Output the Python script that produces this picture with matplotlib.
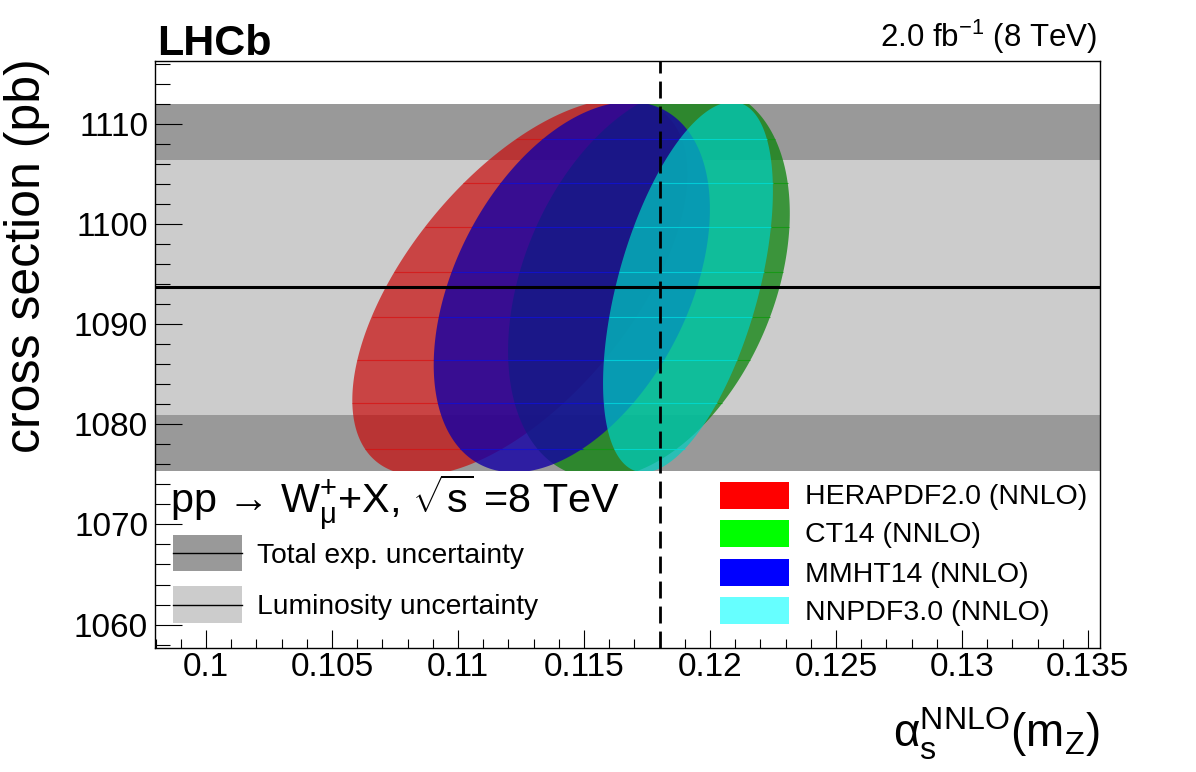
import numpy as np
import matplotlib
matplotlib.use('Agg')
import matplotlib.pyplot as plt
from matplotlib.patches import Polygon, Rectangle
from matplotlib.ticker import MultipleLocator

# ---------------- data ----------------
pdf_names = ['HERAPDF2.0 (NNLO)', 'CT14 (NNLO)', 'MMHT14 (NNLO)', 'NNPDF3.0 (NNLO)']
ell_alpha = [0.11246, 0.11758, 0.11452, 0.11913]      # centre alpha_s
ell_xsec = [1093.7, 1094.2, 1093.7, 1093.7]           # centre cross section (pb)
ell_alpha_err = [0.00665, 0.00559, 0.00548, 0.00337]  # half width in alpha_s
ell_xsec_err = [18.8, 19.6, 18.5, 18.5]               # half height in pb
ell_rho = [0.60, 0.35, 0.42, 0.52]                    # correlation

meas_xsec = 1093.67
tot_unc = 18.31
lumi_unc = 12.72
alpha_ref = 0.118
mesh_levels = [1077.58, 1082.08, 1086.39, 1090.73, 1095.22, 1099.72, 1104.05, 1108.45]

xticks = [0.100, 0.105, 0.110, 0.115, 0.120, 0.125, 0.130, 0.135]
xtick_labels = ['0.1', '0.105', '0.11', '0.115', '0.12', '0.125', '0.13', '0.135']
yticks = [1060, 1070, 1080, 1090, 1100, 1110]
ytick_labels = ['1060', '1070', '1080', '1090', '1100', '1110']
band_labels = ['Total exp. uncertainty', 'Luminosity uncertainty']

# ---------------- style ----------------
fill_colors = ['#c80a0a', '#0a820a', '#1400a5', '#00cdc0']
fill_alpha = [0.70, 0.75, 0.80, 0.72]
mesh_colors = ['#d81010', '#0c9a0c', '#1010d8', '#00e0e0']
legend_colors = ['#ff0000', '#00ff00', '#0000ff', '#66ffff']
dark_grey = '#999999'
light_grey = '#cccccc'

plt.rcParams['font.family'] = ['Liberation Sans', 'DejaVu Sans']
plt.rcParams['mathtext.fontset'] = 'custom'
plt.rcParams['mathtext.rm'] = 'Liberation Sans'
plt.rcParams['mathtext.it'] = 'Liberation Sans:italic'
plt.rcParams['mathtext.bf'] = 'Liberation Sans:bold'
plt.rcParams['mathtext.sf'] = 'Liberation Sans'

W, H = 1196, 772
fig = plt.figure(figsize=(W / 100, H / 100), dpi=100)


def fx(px):
    return px / W


def fy(py):
    return 1 - py / H


ax = fig.add_axes([fx(155), fy(648), (1100 - 155) / W, (648 - 61) / H])
ax.set_xlim(0.09798, 0.13548)
ax.set_ylim(1057.66, 1116.28)

# bands
ax.axhspan(meas_xsec - tot_unc, meas_xsec + tot_unc, color=dark_grey, lw=0, zorder=0)
ax.axhspan(meas_xsec - lumi_unc, meas_xsec + lumi_unc, color=light_grey, lw=0, zorder=0.5)

band_lo = meas_xsec - tot_unc
band_hi = meas_xsec + tot_unc
xl = ax.get_xlim()

t = np.linspace(0, 2 * np.pi, 600)
for i in range(len(pdf_names)):
    cx, cy = ell_alpha[i], ell_xsec[i]
    sx, sy, r = ell_alpha_err[i], ell_xsec_err[i], ell_rho[i]
    xs = cx + sx * np.cos(t)
    ys = cy + sy * (r * np.cos(t) + np.sqrt(1 - r * r) * np.sin(t))
    poly = Polygon(np.column_stack([xs, ys]), closed=True, facecolor=fill_colors[i],
                   alpha=fill_alpha[i], edgecolor='none', zorder=2 + i * 0.1)
    ax.add_patch(poly)
    clip = Rectangle((xl[0], band_lo), xl[1] - xl[0], band_hi - band_lo,
                     transform=ax.transData)
    poly.set_clip_path(clip)
    for lev in mesh_levels:
        u = (lev - cy) / sy
        if abs(u) < 1:
            w = np.sqrt(1 - r * r) * np.sqrt(1 - u * u)
            x1 = cx + sx * (r * u - w)
            x2 = cx + sx * (r * u + w)
            ax.plot([x1, x2], [lev, lev], color=mesh_colors[i], lw=0.8,
                    alpha=fill_alpha[i], zorder=2.05 + i * 0.1,
                    solid_capstyle='butt')

# measurement line and reference alpha_s
ax.axhline(meas_xsec, color='black', lw=2.2, zorder=5)
ax.axvline(alpha_ref, color='black', lw=2.0, linestyle=(0, (6.1, 2.9)), zorder=6)

# ticks
ax.set_xticks(xticks)
ax.set_xticklabels(xtick_labels)
ax.set_yticks(yticks)
ax.set_yticklabels(ytick_labels)
ax.xaxis.set_minor_locator(MultipleLocator(0.001))
ax.yaxis.set_minor_locator(MultipleLocator(2))
ax.tick_params(which='both', direction='in', top=False, right=False, width=0.8,
               labelsize=24)
ax.tick_params(axis='y', which='major', length=19.4, pad=5)
ax.tick_params(axis='y', which='minor', length=10.8)
ax.tick_params(axis='x', which='major', length=13, pad=3)
ax.tick_params(axis='x', which='minor', length=6.5)
for s in ax.spines.values():
    s.set_linewidth(1.0)

# axis titles
fig.text(fx(27), fy(256), 'cross section (pb)', rotation=90, ha='center', va='center',
         fontsize=36)
fig.text(fx(1100), fy(748),
         r'$\mathrm{\alpha}_{\mathrm{s}}^{\mathrm{NNLO}}\mathrm{(m}_{\mathrm{Z}}\mathrm{)}$',
         ha='right', va='baseline', fontsize=33)

# header texts
fig.text(fx(157), fy(55), 'LHCb', fontsize=31, fontweight='bold', ha='left', va='baseline')
fig.text(fx(1097), fy(47), r'2.0 fb$^{-1}$ (8 TeV)', fontsize=22.5, ha='right',
         va='baseline')
fig.text(fx(170), fy(513),
         'pp \u2192 W$_{\\mathrm{\\mu}}^{+}$+X, $\\sqrt{\\mathrm{s}}$ =8 TeV',
         fontsize=29.8, ha='left', va='baseline')

# left legend (bands)
band_cols = [dark_grey, light_grey]
band_box_y = [(535, 571), (586, 623)]
for lab, col, (y0, y1) in zip(band_labels, band_cols, band_box_y):
    fig.add_artist(Rectangle((fx(173), fy(y1)), (242 - 173) / W, (y1 - y0) / H,
                             transform=fig.transFigure, facecolor=col, edgecolor='none'))
    ym = (y0 + y1) / 2
    fig.add_artist(plt.Line2D([fx(173), fx(242)], [fy(ym), fy(ym)], color='black', lw=1.0,
                              transform=fig.transFigure))
    fig.text(fx(257), fy(ym + 10), lab, fontsize=20.3, ha='left', va='baseline')

# right legend (PDF sets)
pdf_box_y = [(482, 509), (520, 547), (559, 586), (597, 624)]
for lab, col, (y0, y1) in zip(pdf_names, legend_colors, pdf_box_y):
    fig.add_artist(Rectangle((fx(720), fy(y1)), (789 - 720) / W, (y1 - y0) / H,
                             transform=fig.transFigure, facecolor=col, edgecolor='none'))
    ym = (y0 + y1) / 2
    fig.text(fx(805), fy(ym + 9), lab, fontsize=20.5, ha='left', va='baseline')

fig.savefig('out.png', dpi=100)
